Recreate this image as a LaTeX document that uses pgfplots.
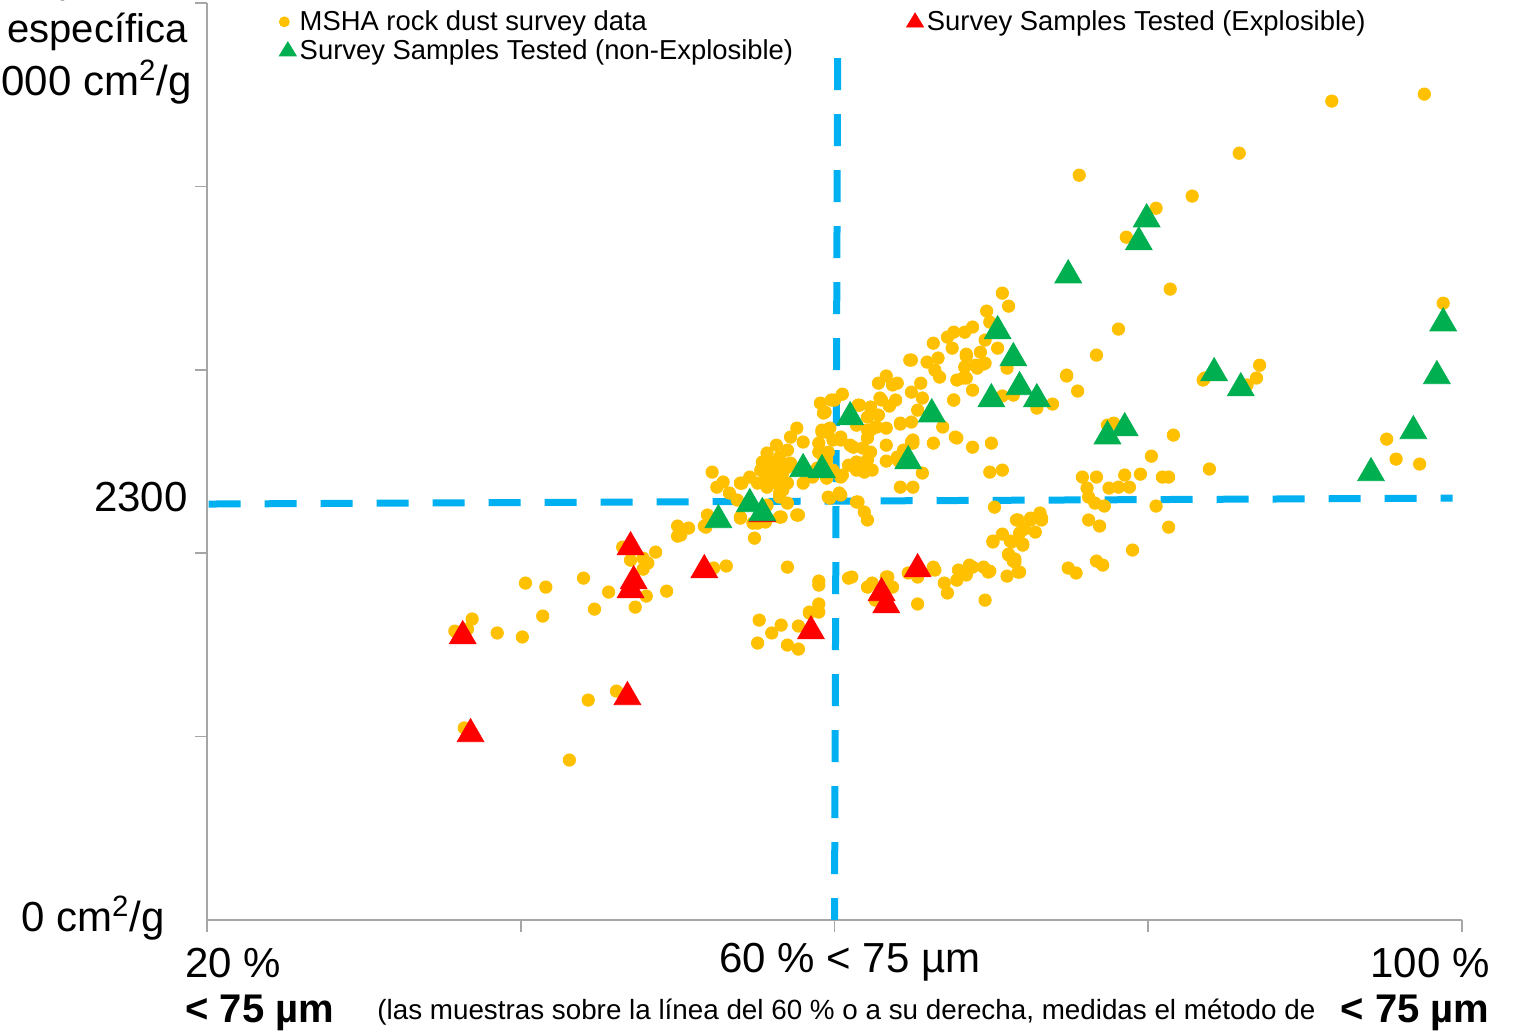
\documentclass[border=0pt]{standalone}
\usepackage{fontspec}
\setmainfont{Liberation Sans}
\usepackage{pgfplots}
\pgfplotsset{compat=1.18}

\definecolor{gold}{HTML}{FFC000}
\definecolor{exred}{HTML}{FF0000}
\definecolor{okgreen}{HTML}{00B050}
\definecolor{refblue}{HTML}{00B0F0}
\definecolor{axisgray}{HTML}{A6A6A6}

\newcommand{\bigtxt}[1]{{\fontsize{21}{24}\selectfont #1}}

\begin{document}
\begin{tikzpicture}
\begin{axis}[
  width=627.5pt, height=458.5pt, scale only axis,
  xmin=20, xmax=100, ymin=0, ymax=5000,
  axis x line*=bottom, axis y line*=left,
  axis line style={axisgray, line width=0.8pt},
  xtick={20,40,60,80,100}, ytick={1000,2000,3000,4000,5000},
  xticklabels={}, yticklabels={},
  tick align=outside, major tick length=6pt,
  tick style={axisgray, line width=0.8pt},
  clip=false,
  legend columns=2,
  legend cell align=left,
  legend style={at={(rel axis cs:0.057,0.9945)}, anchor=north west,
    draw=none, fill=none, inner sep=0pt,
    font=\fontsize{13.7}{15}\selectfont,
    nodes={inner xsep=0pt, inner ysep=1pt},
    /tikz/row sep=1pt,
    /tikz/every odd column/.append style={column sep=1.5pt},
    /tikz/every even column/.append style={column sep=56.5pt}},
]
\addplot[only marks, mark=*, mark size=3.1pt, color=gold,
  legend image code/.code={\fill[gold] (2.5pt,0pt) circle (2.5pt);}]
coordinates {
(36.9,1641)(35.8,1575)(36.6,1586)(38.5,1565)(40.1,1543)(41.4,1657)(40.3,1837)(41.6,1815)(44.0,1864)(44.7,1695)(45.6,1788)(46.5,2033)(47.0,1962)(47.8,1973)(48.6,2006)(48.1,1946)(47.8,1913)(48.0,1766)(47.3,1706)(49.3,1793)(50.0,2148)(50.7,2137)(50.0,2093)(51.8,2142)(52.3,1919)(53.1,1930)(51.9,2208)(54.9,2082)(56.6,2197)(57.7,2208)(57.0,1924)(59.0,1848)(59.0,1826)(60.9,1864)(55.2,1635)(56.6,1608)(56.0,1565)(55.1,1510)(57.0,1499)(57.7,1477)(57.7,1603)(58.4,1674)(59.0,1723)(59.0,1679)(44.3,1199)(46.1,1248)(36.4,1047)(43.1,872)
(62.4,1837)(63.4,1870)(63.7,1815)(62.1,1815)(62.6,1744)(64.7,1892)(65.3,1870)(66.4,1908)(67.0,1837)(67.2,1783)(67.9,1908)(67.8,1853)(68.4,1881)(68.8,1924)(69.5,1924)(69.8,1897)(69.6,1744)(71.0,1875)(71.7,1897)(71.1,1990)(71.4,1957)(70.1,2061)(71.3,2061)(72.0,2050)(65.3,1723)(58.4,1679)(61.1,1870)(63.3,1870)
(70.2,2251)(71.7,2181)(72.5,2181)(73.1,2219)(73.2,2181)(72.1,2131)(72.8,2115)(70.7,2104)(70.1,2066)(72.0,2044)(71.5,1952)(71.8,1897)(69.9,1902)(74.9,1919)(75.4,1892)(76.7,1957)(77.1,1935)(79.0,2017)(76.2,2181)(76.9,2148)(81.3,2142)(80.5,2257)(75.8,2415)(76.7,2415)(76.1,2355)(76.2,2306)(76.6,2273)(77.2,2257)(77.5,2355)(78.1,2360)(78.8,2360)(78.5,2426)(79.5,2431)(80.9,2415)(81.3,2415)(80.2,2529)(83.9,2459)(81.6,2644)(70.0,2600)(69.9,2442)(70.7,2453)(68.8,2578)(67.7,2633)(66.3,2600)(65.6,2437)(64.2,2360)(65.0,2360)(64.9,2606)(64.2,2709)(63.3,2682)(62.1,2181)(61.9,2224)(61.4,2279)(59.6,2306)(60.3,2328)(68.8,2889)(67.6,2835)(73.9,2813)(72.9,2791)(75.5,2884)(77.4,2698)(77.8,2709)(83.5,2944)(73.2,2191)
(91.7,4465)(97.6,4503)(85.8,4181)(82.8,3947)(75.6,4061)(80.5,3881)(78.6,3723)(81.4,3440)(78.1,3222)(76.7,3080)(74.8,2971)(98.8,3363)(87.1,3025)(86.9,2955)(83.6,2955)(86.3,2917)(95.2,2622)(95.8,2513)(97.3,2486)
(70.7,3418)(71.1,3347)(69.7,3320)(69.9,3260)(68.8,3233)(68.3,3205)(69.6,3162)(70.4,3118)(69.3,3096)(68.4,3085)(69.0,3025)(68.2,2955)(71.0,3009)(69.6,3036)(70.7,2857)(71.4,2862)(67.6,3205)(67.2,3178)(66.3,3145)(67.5,3118)(68.4,3074)(69.5,3031)(69.1,3009)(68.3,3015)(68.4,2955)(67.8,2944)(66.7,2960)(66.4,2998)(65.9,3042)(66.6,3064)(64.9,3053)(65.5,2927)(64.9,2878)(67.6,2835)(63.7,2917)(64.0,2927)(63.3,2966)(62.8,2927)(62.9,2846)(63.9,2835)(63.5,2802)(62.3,2797)(61.6,2807)(62.1,2742)(62.8,2753)(62.6,2688)(64.2,2704)(64.9,2715)(65.3,2780)(65.6,2846)(65.0,2600)(66.9,2688)(67.8,2628)(59.1,2818)(59.3,2764)(60.0,2835)(60.5,2867)(59.5,2660)(60.4,2617)(61.2,2578)(61.8,2573)(62.3,2551)(62.1,2628)(62.1,2671)(63.3,2589)(63.3,2502)(64.1,2502)(64.4,2562)(62.4,2453)(61.9,2442)(61.4,2453)(61.6,2491)(60.9,2480)(60.5,2426)(61.5,2279)(59.1,2453)(59.3,2524)(59.0,2551)(59.6,2551)(59.9,2617)(59.2,2660)(58.0,2606)(57.6,2682)(57.2,2633)(56.3,2589)(57.0,2562)(55.7,2546)(55.4,2497)(56.1,2491)(56.5,2469)(57.2,2491)(56.7,2437)(56.0,2437)(55.6,2404)(54.6,2415)(54.1,2382)(52.9,2388)(52.5,2360)(52.2,2442)(53.3,2328)(53.8,2290)(55.1,2382)(55.7,2360)(56.3,2382)(56.5,2328)(57.0,2382)(58.0,2382)(58.6,2415)(59.5,2409)(60.4,2415)(56.5,2197)(54.0,2197)(54.8,2164)(55.6,2170)(51.7,2148)(50.2,2099)(66.3,1924)(68.6,1935)(74.8,2966)(71.6,2181)(72.5,2191)(71.8,2110)(71.2,2066)(71.1,1995)(71.5,1968)(64.8,3053)(63.0,2835)(61.5,2807)(59.8,2835)(59.4,2769)(59.2,2671)(59.7,2682)(59.0,2600)(60.4,2633)(61.0,2589)(61.4,2698)(62.3,2671)(62.7,2688)(64.0,2524)(65.0,2617)(59.5,2508)(59.9,2453)(58.9,2464)(61.4,2497)(62.1,2508)(61.8,2453)(59.7,2300)(60.4,2317)(56.5,2524)(57.0,2469)(56.1,2464)(55.3,2453)(54.0,2382)(56.7,2344)(56.5,2306)(57.0,2273)(57.6,2208)(55.7,2262)(55.1,2164)(54.0,2191)
};
\addlegendentry{MSHA rock dust survey data}

\addplot[only marks, mark=triangle*, mark size=7.7pt, color=exred,
  mark options={draw=none},
  legend image code/.code={\fill[exred] (0pt,-2.6pt)--(8.5pt,-2.6pt)--(4.25pt,4.4pt)--cycle;}]
coordinates {
(47.0,2033)(47.2,1848)(47.0,1799)(36.3,1548)(51.7,1908)(58.5,1575)(46.8,1216)(36.8,1014)(65.3,1913)(63.0,1783)(63.3,1717)(55.4,2213)
};
\addlegendentry{Survey Samples Tested (Explosible)}

\addplot[only marks, mark=triangle*, mark size=7.7pt, color=okgreen,
  mark options={draw=none},
  legend image code/.code={\fill[okgreen] (0pt,-2.6pt)--(8.5pt,-2.6pt)--(4.25pt,4.4pt)--cycle;}]
coordinates {
(79.9,3821)(79.4,3696)(74.9,3516)(98.8,3254)(98.4,2966)(96.9,2666)(94.2,2437)(84.2,2982)(85.9,2900)(78.5,2682)(77.4,2638)(70.4,3211)(71.4,3064)(71.8,2906)(70.0,2840)(72.9,2840)(61.0,2742)(66.2,2758)(64.7,2502)(58.0,2459)(59.2,2453)(54.6,2268)(55.4,2219)(52.6,2181)
};
\addlegendentry{Survey Samples Tested (non-Explosible)}

% reference lines: 2300 cm2/g and 60 % < 75 um
\addplot[forget plot, refblue, line width=3.5pt, dash pattern=on 16pt off 12pt]
  coordinates {(20.1,2268)(99.4,2300)};
\addplot[forget plot, refblue, line width=3.5pt, dash pattern=on 16pt off 12pt]
  coordinates {(60.2,4699)(60.0,0)};
\end{axis}

% axis texts
\node[anchor=east, inner sep=0pt] at (-9.5pt,469pt) {\fontsize{20}{24}\selectfont Superficie};
\node[anchor=east, inner sep=0pt] at (-9.5pt,444pt) {\fontsize{20}{24}\selectfont específica};
\node[anchor=east, inner sep=0pt] at (-7.5pt,419pt) {\bigtxt{5000 cm\textsuperscript{2}/g}};
\node[anchor=east, inner sep=0pt] at (-9.5pt,211.5pt) {\bigtxt{2300}};
\node[anchor=east, inner sep=0pt] at (-21pt,1pt) {\bigtxt{0 cm\textsuperscript{2}/g}};
\node[anchor=west, inner sep=0pt] at (-11pt,-21.5pt) {\bigtxt{20 \%}};
\node[anchor=west, inner sep=0pt] at (-11pt,-46.5pt) {\fontsize{20}{24}\selectfont\bfseries < 75 µm};
\node[anchor=center, inner sep=0pt] at (321.5pt,-21pt) {\bigtxt{60 \% < 75 µm}};
\node[anchor=east, inner sep=0pt] at (641.5pt,-21.5pt) {\bigtxt{100 \%}};
\node[anchor=east, inner sep=0pt] at (641.5pt,-46.5pt) {\fontsize{20}{24}\selectfont\bfseries < 75 µm};
\node[anchor=west, inner sep=0pt] at (85pt,-46pt) {\fontsize{13.9}{16}\selectfont (las muestras sobre la línea del 60 \% o a su derecha, medidas el método de};

\pgfresetboundingbox
\useasboundingbox (-103.5pt,-58pt) rectangle (657pt,460pt);
\end{tikzpicture}
\end{document}
